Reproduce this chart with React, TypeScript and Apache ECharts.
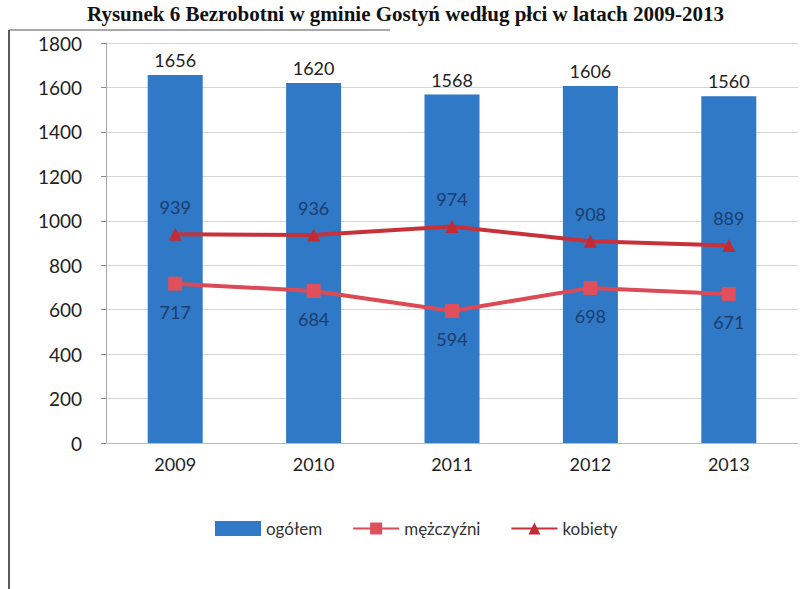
import React, { useEffect, useRef } from "react";
import * as echarts from "echarts";

const years = ["2009", "2010", "2011", "2012", "2013"];
const ogolem = [1656, 1620, 1568, 1606, 1560];
const mezczyzni = [717, 684, 594, 698, 671];
const kobiety = [939, 936, 974, 908, 889];
const yTicks = { min: 0, max: 1800, interval: 200 };
const titleText = "Rysunek 6 Bezrobotni w gminie Gostyń według płci w latach 2009-2013";

export default function App() {
  const ref = useRef<HTMLDivElement>(null);
  useEffect(() => {
    const chart = echarts.init(ref.current!, null, { renderer: "svg" });
    const font = "Lato, 'Open Sans', sans-serif";
    chart.setOption({
      animation: false,
      backgroundColor: "#ffffff",
      graphic: [
        {
          type: "text",
          left: "center",
          top: 3,
          style: {
            text: titleText,
            font: "bold 21px 'Liberation Serif', serif",
            fill: "#111",
          },
        },
        {
          type: "line",
          shape: { x1: 9, y1: 30, x2: 9, y2: 589 },
          style: { stroke: "#222", lineWidth: 1.5 },
        },
        {
          type: "line",
          shape: { x1: 9, y1: 30, x2: 390, y2: 30 },
          style: { stroke: "#555", lineWidth: 1 },
        },
      ],
      grid: { left: 106, right: 13, top: 43, bottom: 146 },
      legend: {
        bottom: 47,
        left: 210,
        itemGap: 30,
        itemWidth: 46,
        itemHeight: 15,
        textStyle: { fontFamily: font, fontSize: 17, color: "#333" },
        data: [
          { name: "ogółem", icon: "rect" },
          { name: "mężczyźni" },
          { name: "kobiety" },
        ],
      },
      xAxis: {
        type: "category",
        data: years,
        axisLine: { show: true, lineStyle: { color: "#bbb" } },
        axisTick: { show: false },
        axisLabel: { fontFamily: font, fontSize: 18, color: "#222", margin: 12 },
      },
      yAxis: {
        type: "value",
        min: yTicks.min,
        max: yTicks.max,
        interval: yTicks.interval,
        axisLine: { show: true, lineStyle: { color: "#aaa" } },
        axisTick: { show: true, length: 5, lineStyle: { color: "#888" } },
        axisLabel: {
          fontFamily: font,
          fontSize: 19,
          color: "#222",
          margin: 24,
          formatter: (v: number) => String(v),
        },
        splitLine: { lineStyle: { color: "#d4d4d4" } },
      },
      series: [
        {
          name: "ogółem",
          type: "bar",
          data: ogolem,
          barWidth: 55,
          itemStyle: { color: "#2f79c6" },
          label: {
            show: true,
            position: "top",
            distance: 6,
            fontFamily: font,
            fontSize: 18,
            color: "#222",
          },
          z: 1,
        },
        {
          name: "mężczyźni",
          type: "line",
          data: mezczyzni,
          symbol: "rect",
          symbolSize: 14,
          lineStyle: { color: "#dc4a55", width: 4 },
          itemStyle: { color: "#e0505c" },
          label: {
            show: true,
            position: "bottom",
            distance: 12,
            fontFamily: font,
            fontSize: 18,
            color: "#1d3d6e",
          },
          z: 3,
        },
        {
          name: "kobiety",
          type: "line",
          data: kobiety,
          symbol: "triangle",
          symbolSize: 13,
          lineStyle: { color: "#c8313a", width: 4 },
          itemStyle: { color: "#c22b34" },
          label: {
            show: true,
            position: "top",
            distance: 12,
            fontFamily: font,
            fontSize: 18,
            color: "#1d3d6e",
          },
          z: 3,
        },
      ],
    });
    return () => chart.dispose();
  }, []);
  return (
    <div
      ref={ref}
      style={{ position: "fixed", left: 0, top: 0, width: 811, height: 589 }}
    />
  );
}
